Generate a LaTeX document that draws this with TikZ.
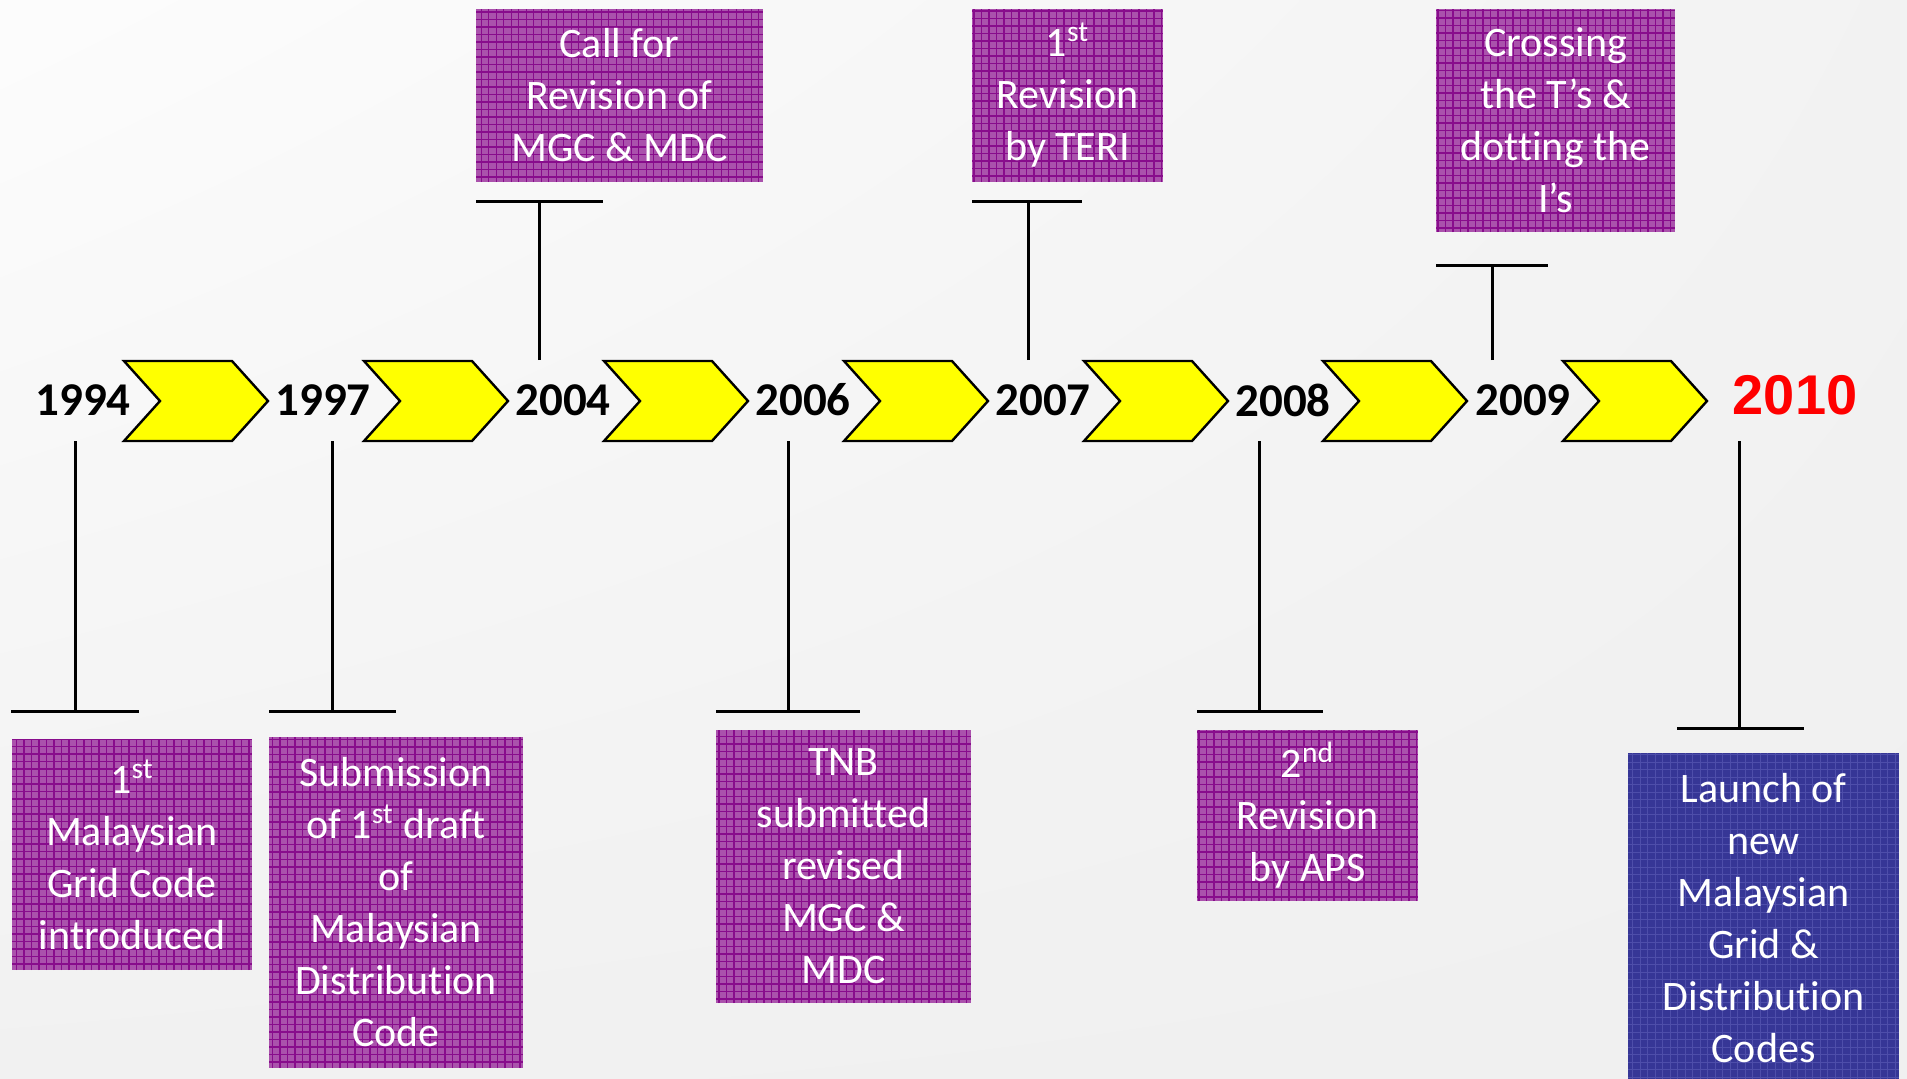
\documentclass[tikz,border=0pt]{standalone}
\usepackage{fontspec}
\setmainfont{Carlito}[Ligatures=NoCommon]
\newfontfamily\arialfont{Liberation Sans}
\usetikzlibrary{shadings}

\definecolor{chevyellow}{RGB}{255,255,0}
\definecolor{boxpurple}{RGB}{170,82,172}
\definecolor{gridpurple}{RGB}{136,12,140}
\definecolor{boxblue}{RGB}{54,54,150}
\definecolor{gridblue}{RGB}{78,78,170}
\definecolor{launchred}{RGB}{255,0,0}

\tikzset{every picture/.style={line width=0.5pt}}

\tikzset{
  year/.style={font=\bfseries\fontsize{23.5}{28}\selectfont, inner sep=0pt},
  finalyear/.style={text=launchred, font=\arialfont\bfseries\fontsize{28}{32}\selectfont, inner sep=0pt},
  chev/.style={draw=black, line width=1.2pt, fill=chevyellow, line join=miter},
  stem/.style={draw=black, line width=1.5pt},
  boxsize/.style 2 args={minimum width={#1*0.5pt}, minimum height={#2*0.5pt}},
  event/.style={rectangle, fill=boxpurple, text=white, align=center, inner sep=0pt,
    font=\fontsize{21}{26}\selectfont,
    path picture={\draw[gridpurple, line width=0.7pt] (path picture bounding box.south west) grid[step=3.75pt] (path picture bounding box.north east);}},
  launch/.style={event, fill=boxblue,
    path picture={\draw[gridblue, line width=0.5pt] (path picture bounding box.south west) grid[step=3.75pt] (path picture bounding box.north east);}}
}

\begin{document}
\begin{tikzpicture}[x=0.5pt,y=0.5pt,yscale=-1,xscale=1]
%set diagram: 1907 x 1078
\useasboundingbox (0,0) rectangle (1907,1078);
\shade[upper left=gray!2, upper right=gray!10, lower left=gray!11, lower right=gray!12] (0,0) rectangle (1907,1078);

%Shape: Chevron
\draw[chev] (124,361) -- ++(108,0) -- ++(36,40) -- ++(-36,40) -- ++(-108,0) -- ++(36,-40) -- cycle ;
%Shape: Chevron
\draw[chev] (364,361) -- ++(108,0) -- ++(36,40) -- ++(-36,40) -- ++(-108,0) -- ++(36,-40) -- cycle ;
%Shape: Chevron
\draw[chev] (604,361) -- ++(108,0) -- ++(36,40) -- ++(-36,40) -- ++(-108,0) -- ++(36,-40) -- cycle ;
%Shape: Chevron
\draw[chev] (844,361) -- ++(108,0) -- ++(36,40) -- ++(-36,40) -- ++(-108,0) -- ++(36,-40) -- cycle ;
%Shape: Chevron
\draw[chev] (1084,361) -- ++(108,0) -- ++(36,40) -- ++(-36,40) -- ++(-108,0) -- ++(36,-40) -- cycle ;
%Shape: Chevron
\draw[chev] (1323,361) -- ++(108,0) -- ++(36,40) -- ++(-36,40) -- ++(-108,0) -- ++(36,-40) -- cycle ;
%Shape: Chevron
\draw[chev] (1563,361) -- ++(108,0) -- ++(36,40) -- ++(-36,40) -- ++(-108,0) -- ++(36,-40) -- cycle ;

% Text Node
\node[year] (y1994) at (83,400) {1994};
% Text Node
\node[year] (y1997) at (323,400) {1997};
% Text Node
\node[year] (y2004) at (563,400) {2004};
% Text Node
\node[year] (y2006) at (803,400) {2006};
% Text Node
\node[year] (y2007) at (1043,400) {2007};
% Text Node
\node[year] (y2008) at (1283,400) {2008};
% Text Node
\node[year] (y2009) at (1523,400) {2009};
% Text Node
\node[finalyear] (y2010) at (1795,395) {2010};

%Shape: Rectangle
\node[event, boxsize={240}{231}] (b1994) at (132,854.5) {1\textsuperscript{st}\\Malaysian\\Grid Code\\introduced};
%Shape: Rectangle
\node[event, boxsize={254}{331}] (b1997) at (396,902.5) {Submission\\of 1\textsuperscript{st} draft\\of\\Malaysian\\Distribution\\Code};
%Shape: Rectangle
\node[event, boxsize={287}{173}] (b2004) at (619.5,95.5) {Call for\\Revision of\\MGC \& MDC};
%Shape: Rectangle
\node[event, boxsize={255}{273}] (b2006) at (843.5,866.5) {TNB\\submitted\\revised\\MGC \&\\MDC};
%Shape: Rectangle
\node[event, boxsize={191}{173}] (b2007) at (1067.5,95.5) {1\textsuperscript{st}\\Revision\\by TERI};
%Shape: Rectangle
\node[event, boxsize={221}{171}] (b2008) at (1307.5,815.5) {2\textsuperscript{nd}\\Revision\\by APS};
%Shape: Rectangle
\node[event, boxsize={239}{223}] (b2009) at (1555.5,120.5) {Crossing\\the T’s \&\\dotting the\\I’s};
%Shape: Rectangle
\node[launch, boxsize={271}{330}] (b2010) at (1763.5,918) {Launch of\\new\\Malaysian\\Grid \&\\Distribution\\Codes};

% Stem ends
\coordinate (s1994) at (75,441);   \coordinate (t1994) at (75,711);
\coordinate (s1997) at (332,441);  \coordinate (t1997) at (332,711);
\coordinate (s2004) at (539,360);  \coordinate (t2004) at (539,201);
\coordinate (s2006) at (788,441);  \coordinate (t2006) at (788,711);
\coordinate (s2007) at (1028,360); \coordinate (t2007) at (1028,201);
\coordinate (s2008) at (1259,441); \coordinate (t2008) at (1259,711);
\coordinate (s2009) at (1492,360); \coordinate (t2009) at (1492,265);
\coordinate (s2010) at (1739,441); \coordinate (t2010) at (1739,728);

%Straight Lines
\draw[stem] (s1994) -- (t1994) ++(-64,0) -- ++(128,0) ;
%Straight Lines
\draw[stem] (s1997) -- (t1997) ++(-63,0) -- ++(127,0) ;
%Straight Lines
\draw[stem] (s2004) -- (t2004) ++(-63,0) -- ++(127,0) ;
%Straight Lines
\draw[stem] (s2006) -- (t2006) ++(-72,0) -- ++(144,0) ;
%Straight Lines
\draw[stem] (s2007) -- (t2007) ++(-56,0) -- ++(110,0) ;
%Straight Lines
\draw[stem] (s2008) -- (t2008) ++(-62,0) -- ++(126,0) ;
%Straight Lines
\draw[stem] (s2009) -- (t2009) ++(-56,0) -- ++(112,0) ;
%Straight Lines
\draw[stem] (s2010) -- (t2010) ++(-62,0) -- ++(127,0) ;

\end{tikzpicture}
\end{document}
